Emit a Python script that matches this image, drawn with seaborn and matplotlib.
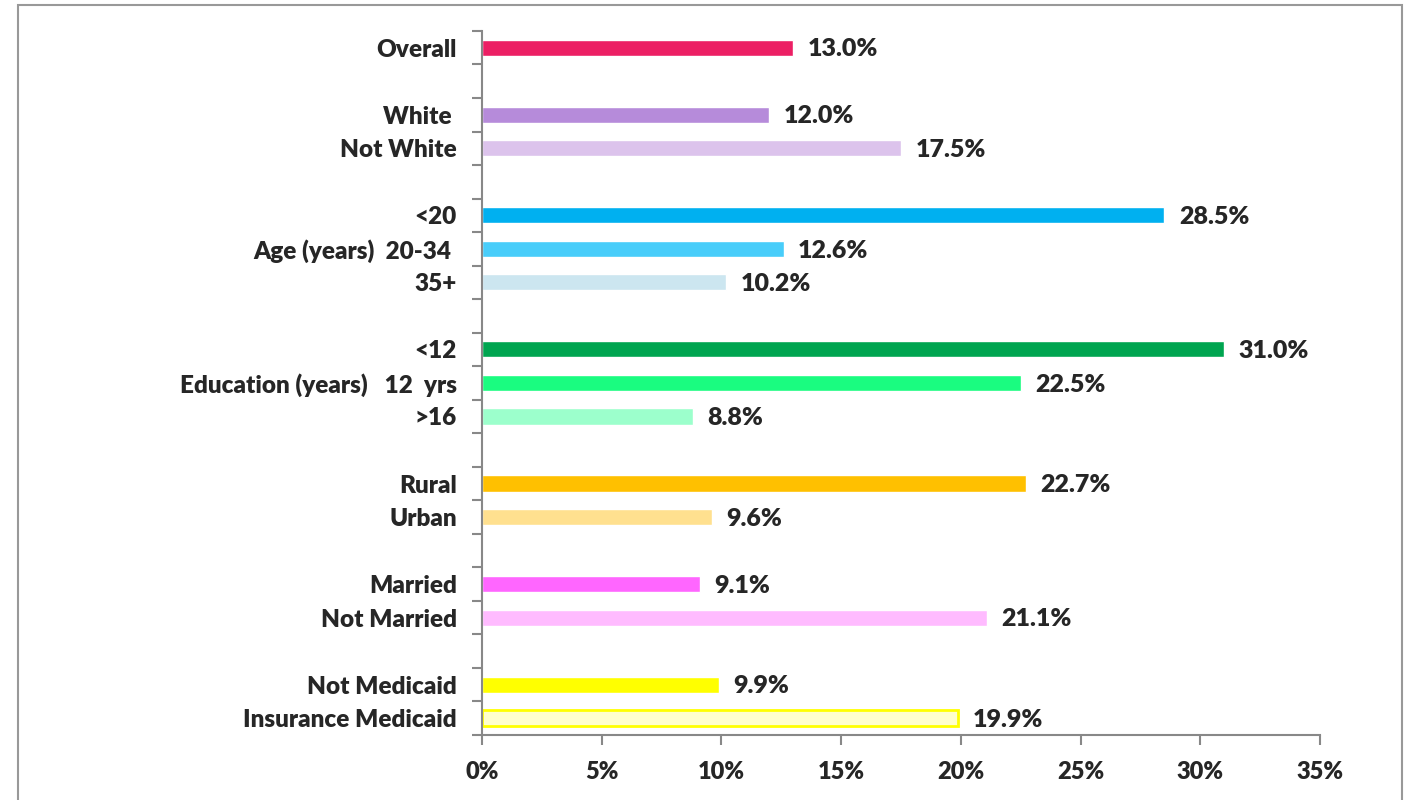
import numpy as np
import pandas as pd
import seaborn as sns
import matplotlib.pyplot as plt
from matplotlib.patches import Rectangle

# rows top to bottom, blanks are the gaps between groups
labels = ["Overall", "",
          "White ", "Not White", " ",
          "<20", "Age (years)  20-34 ", "35+", "  ",
          "<12", "Education (years)   12  yrs", ">16", "   ",
          "Rural", "Urban", "    ",
          "Married", "Not Married", "     ",
          "Not Medicaid", "Insurance Medicaid"]
values = [13.0, np.nan,
          12.0, 17.5, np.nan,
          28.5, 12.6, 10.2, np.nan,
          31.0, 22.5, 8.8, np.nan,
          22.7, 9.6, np.nan,
          9.1, 21.1, np.nan,
          9.9, 19.9]
colors = ["#EC1F64", "#FFFFFF",
          "#B68BDA", "#DCC3EC", "#FFFFFF",
          "#00B0F0", "#48CDFA", "#CCE6F0", "#FFFFFF",
          "#00A550", "#1AFC80", "#9CFFCC", "#FFFFFF",
          "#FFC000", "#FFE08F", "#FFFFFF",
          "#FF66FF", "#FFBBFF", "#FFFFFF",
          "#FFFF00", "#FFFFCC"]
xticks = [0, 5, 10, 15, 20, 25, 30, 35]

df = pd.DataFrame({"label": labels, "value": values})

sns.set_style("white")
plt.rcParams["font.family"] = ["Lato", "DejaVu Sans"]
plt.rcParams["font.weight"] = "bold"

fig = plt.figure(figsize=(14.04, 8.0), dpi=100)
ax = fig.add_axes([0.3433, 0.0813, 0.5969, 0.8800])

sns.barplot(data=df, y="label", x="value", hue="label", palette=colors,
            order=labels, hue_order=labels, legend=False, width=0.48,
            saturation=1, ax=ax)

# last bar has a yellow outline
for p in ax.containers[-1]:
    p.set_edgecolor("#FFFF00")
    p.set_linewidth(2)

for i, v in enumerate(values):
    if not np.isnan(v):
        ax.text(v + 0.6, i + 0.05, f"{v:.1f}%", va="center", ha="left",
                fontsize=18, fontweight="heavy")

ax.set_xlim(0, 35)
ax.set_ylim(len(labels) - 0.5, -0.5)
ax.set_xticks(xticks)
ax.set_xticklabels([f"{t}%" for t in xticks], fontsize=17, fontweight="heavy")
ax.set_yticks(range(len(labels)))
ax.set_yticklabels(labels, fontsize=17.5, fontweight="heavy")
ax.set_yticks(np.arange(-0.5, len(labels), 1), minor=True)
ax.tick_params(axis="y", which="major", left=True, length=0, pad=18)
ax.tick_params(axis="y", which="minor", left=True, length=7, width=1.5,
               color="#888888", direction="out")
ax.tick_params(axis="x", which="major", bottom=True, length=7, width=1.5,
               color="#888888", direction="out", pad=12)
ax.set_xlabel("")
ax.set_ylabel("")

for s in ["top", "right"]:
    ax.spines[s].set_visible(False)
for s in ["left", "bottom"]:
    ax.spines[s].set_color("#888888")
    ax.spines[s].set_linewidth(1.5)

# outer frame
fig.patches.append(Rectangle((18 / 1404, -0.05), 1384 / 1404, 1.05 - 5 / 800,
                             transform=fig.transFigure, fill=False,
                             edgecolor="#999999", linewidth=1.5))

fig.savefig("out.png", dpi=100)
